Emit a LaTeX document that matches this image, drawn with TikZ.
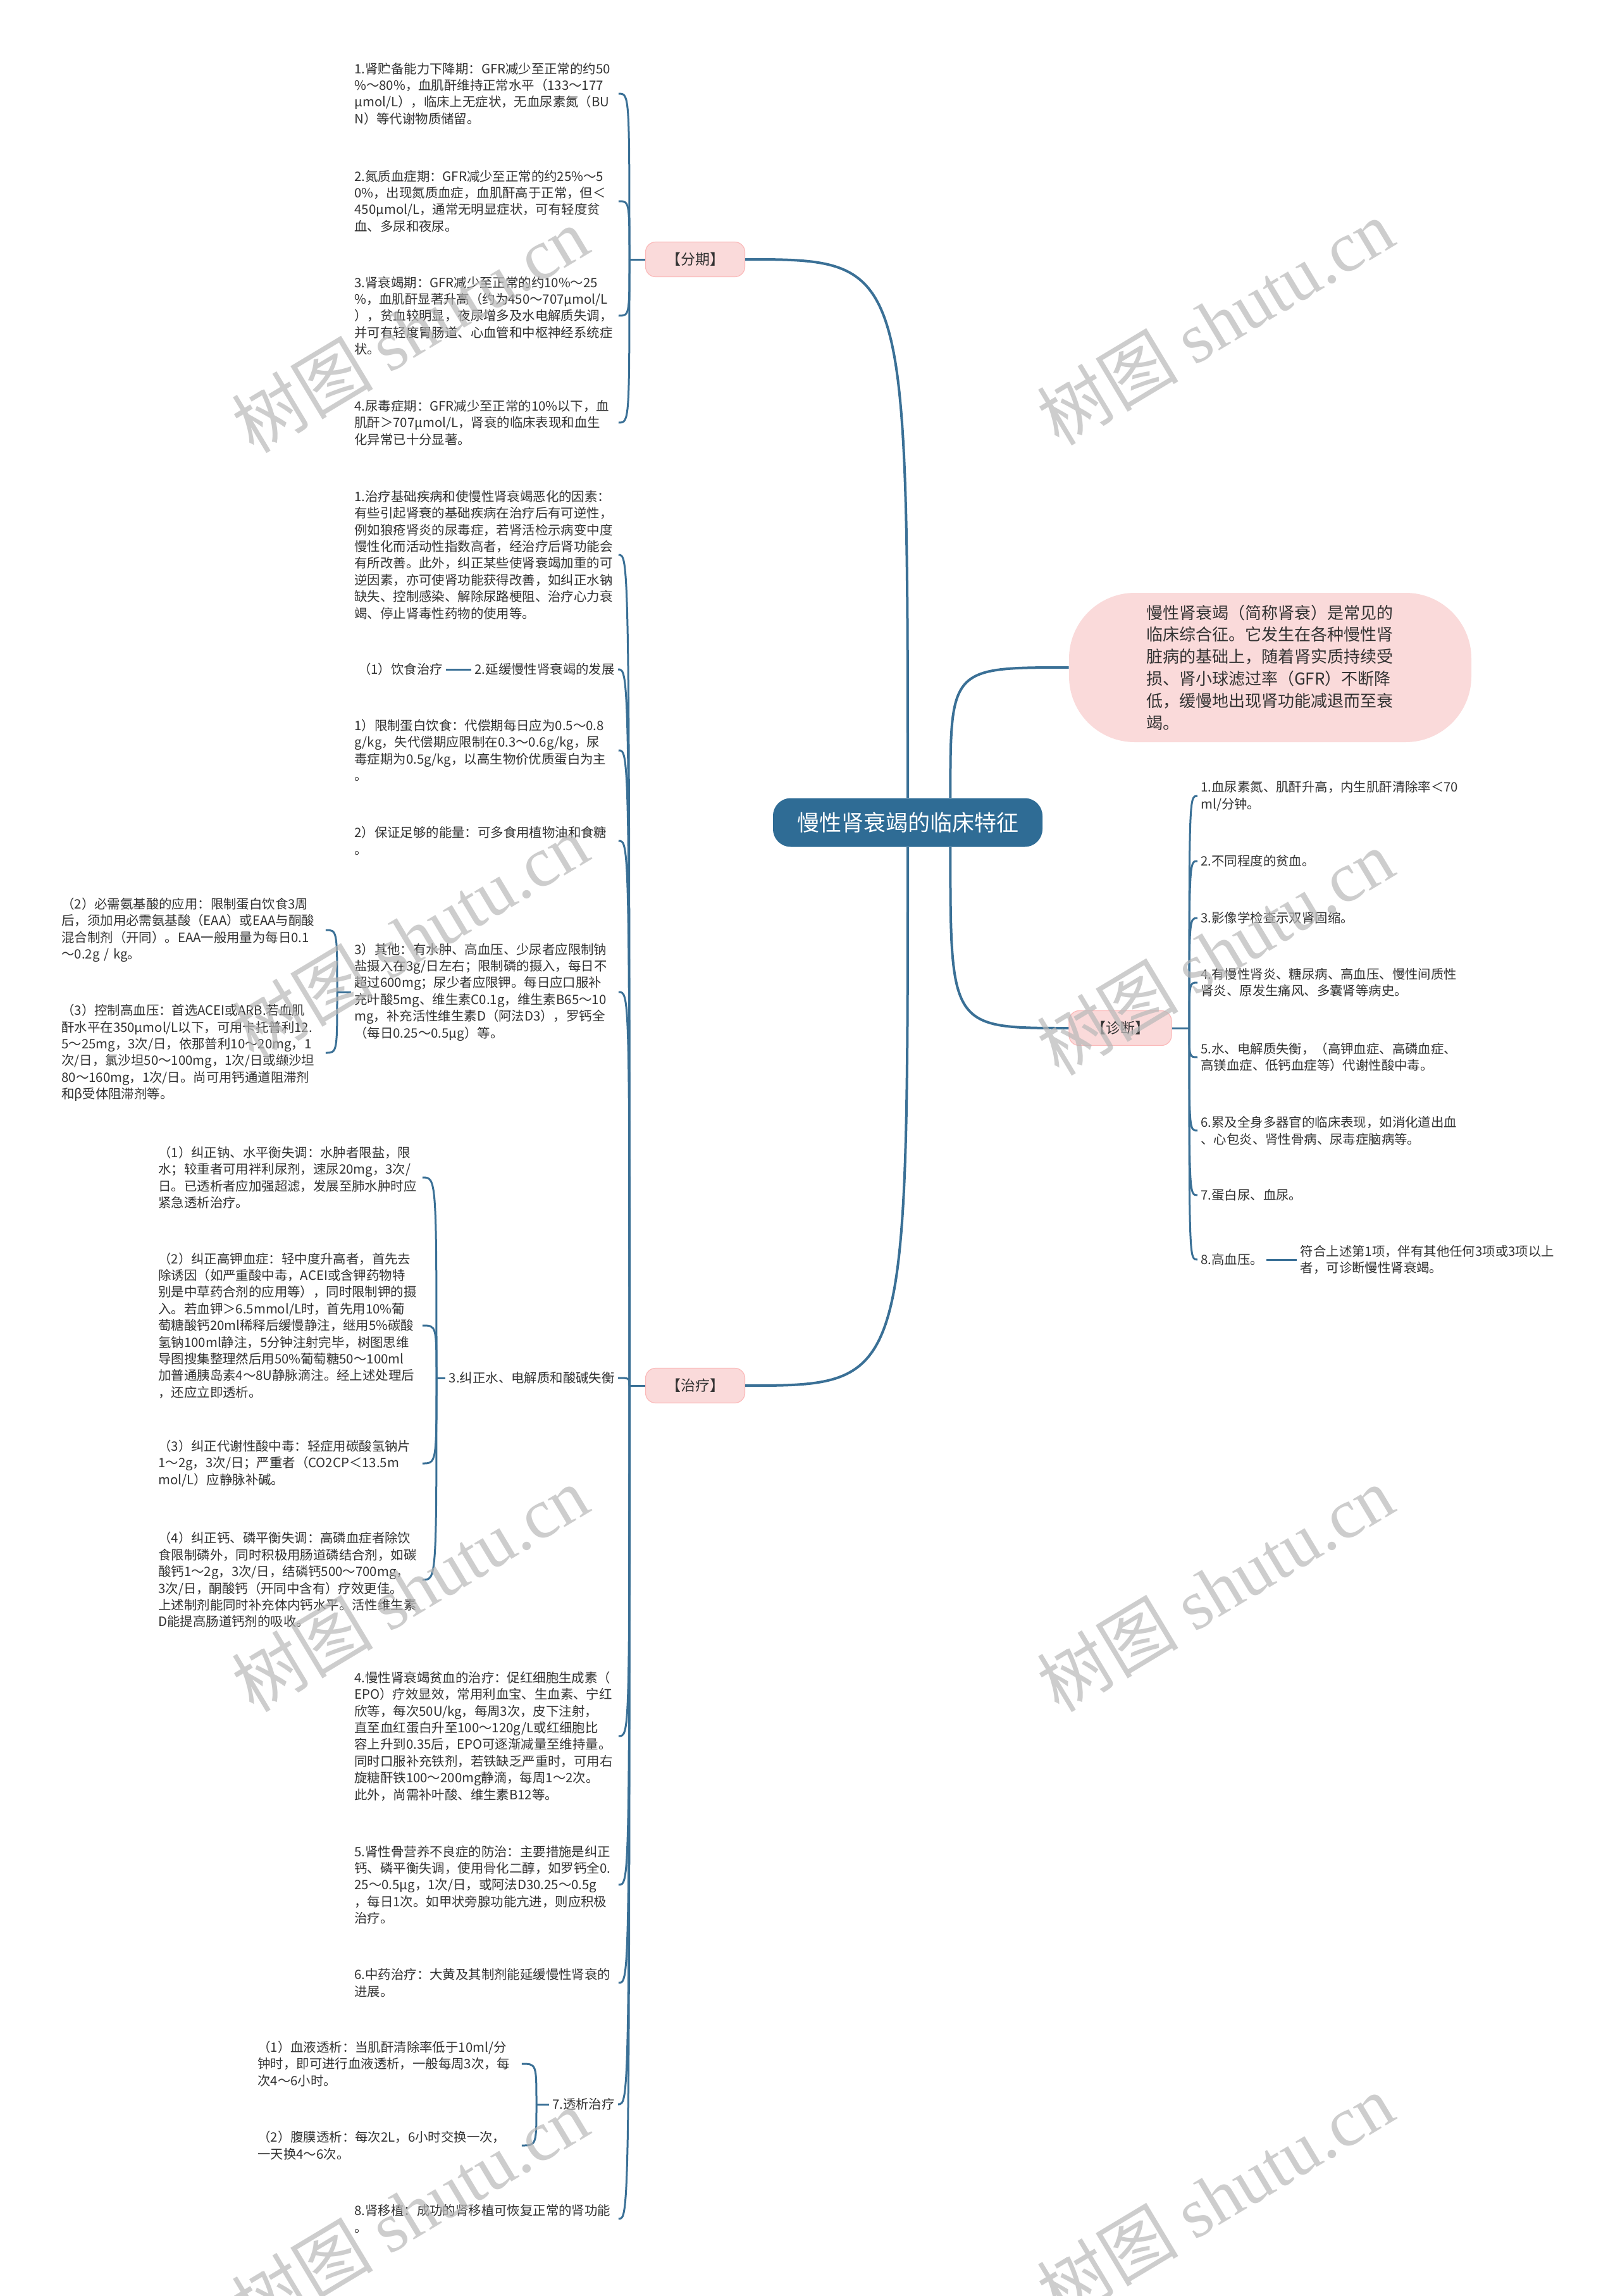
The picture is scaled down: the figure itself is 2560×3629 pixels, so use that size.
\documentclass[tikz,border=0pt]{standalone}
\usepackage{fontspec}
\setmainfont{Noto Sans CJK SC}
\newfontfamily\wmfont{Liberation Serif}
\usetikzlibrary{positioning}
\usepackage{xcolor}
\definecolor{linkblue}{HTML}{3A7096}
\definecolor{rootblue}{HTML}{2F6C95}
\definecolor{tagpink}{HTML}{FADADA}
\definecolor{txtgray}{HTML}{333333}

\tikzset{
  link/.style={draw=linkblue, line width=1.5pt},
  rootlink/.style={draw=linkblue, line width=2pt},
  leaf/.style={text=txtgray, font=\fontsize{10.2pt}{13.2pt}\selectfont,
               align=left, inner xsep=2.5pt, inner ysep=0pt},
  leafbox/.style={leaf, text width=206pt},
  tag/.style={fill=tagpink, draw=tagpink!85!red, line width=0.6pt,
              rounded corners=8pt, minimum width=78.5pt, minimum height=27.5pt,
              font=\fontsize{11.5pt}{14pt}\selectfont, text=txtgray},
  root/.style={fill=rootblue, text=white, rounded corners=14pt,
               minimum width=213pt, minimum height=38.5pt,
               font=\fontsize{17.5pt}{20pt}\selectfont},
  desc/.style={fill=tagpink, rounded corners=52pt, minimum width=318pt,
               minimum height=118pt, text width=196pt, align=left,
               text=txtgray, font=\fontsize{13pt}{17.4pt}\selectfont},
  wm/.style={text=black!28, opacity=0.7, rotate=31,
             font=\fontsize{56pt}{60pt}\selectfont}
}

\begin{document}
\begin{tikzpicture}[x=0.5pt, y=-0.5pt]
  \fill[white] (0,0) rectangle (2560,3629);
  \useasboundingbox (0,0) rectangle (2560,3629);

  % root and main branches
  \node[root] (root) at (1435,1300) {慢性肾衰竭的临床特征};
  \node[tag] (fenqi) at (1099,410) {【分期】};
  \node[tag] (zhiliao) at (1099,2190) {【治疗】};
  \node[tag, minimum width=81pt] (zhenduan) at (1771,1625) {【诊断】};
  \node[desc] (intro) at (2008,1055) {慢性肾衰竭（简称肾衰）是常见的\\临床综合征。它发生在各种慢性肾\\脏病的基础上，随着肾实质持续受\\损、肾小球滤过率（GFR）不断降\\低，缓慢地出现肾功能减退而至衰\\竭。};

  \draw[rootlink] (root.north) .. controls (root.north |- fenqi.east) .. (fenqi.east);
  \draw[rootlink] (root.south) .. controls (root.south |- zhiliao.east) .. (zhiliao.east);
  \draw[rootlink] (root.30) .. controls (root.30 |- intro.west) .. (intro.west);
  \draw[rootlink] (root.-30) .. controls (root.-30 |- zhenduan.west) .. (zhenduan.west);

  % 分期
  \node[leafbox, anchor=west] (fq1) at (555,148) {1.肾贮备能力下降期：GFR减少至正常的约50\\\%～80\%，血肌酐维持正常水平（133～177\\μmol/L），临床上无症状，无血尿素氮（BU\\N）等代谢物质储留。};
  \node[leafbox, anchor=west] (fq2) at (555,318) {2.氮质血症期：GFR减少至正常的约25\%～5\\0\%，出现氮质血症，血肌酐高于正常，但＜\\450μmol/L，通常无明显症状，可有轻度贫\\血、多尿和夜尿。};
  \node[leafbox, anchor=west] (fq3) at (555,499) {3.肾衰竭期：GFR减少至正常的约10\%～25\\\%，血肌酐显著升高（约为450～707μmol/L\\），贫血较明显，夜尿增多及水电解质失调，\\并可有轻度胃肠道、心血管和中枢神经系统症\\状。};
  \node[leafbox, anchor=west] (fq4) at (555,668) {4.尿毒症期：GFR减少至正常的10\%以下，血\\肌酐＞707μmol/L，肾衰的临床表现和血生\\化异常已十分显著。};

  \coordinate (fqj) at (995,410);
  \draw[link] (fenqi.west) -- (fqj);
  \foreach \c in {fq1,fq2,fq3,fq4}
    \draw[link] (fqj) .. controls (fqj |- \c.east) .. (\c.east);

  % 治疗
  \node[leafbox, anchor=west] (zl1) at (555,877) {1.治疗基础疾病和使慢性肾衰竭恶化的因素：\\有些引起肾衰的基础疾病在治疗后有可逆性，\\例如狼疮肾炎的尿毒症，若肾活检示病变中度\\慢性化而活动性指数高者，经治疗后肾功能会\\有所改善。此外，纠正某些使肾衰竭加重的可\\逆因素，亦可使肾功能获得改善，如纠正水钠\\缺失、控制感染、解除尿路梗阻、治疗心力衰\\竭、停止肾毒性药物的使用等。};
  \node[leaf, anchor=east] (zl2) at (977,1058) {2.延缓慢性肾衰竭的发展};
  \node[leaf, left=20pt of zl2] (ys) {（1）饮食治疗};
  \node[leafbox, anchor=west] (zl3) at (555,1186) {1）限制蛋白饮食：代偿期每日应为0.5～0.8\\g/kg，失代偿期应限制在0.3～0.6g/kg，尿\\毒症期为0.5g/kg，以高生物价优质蛋白为主\\。};
  \node[leafbox, anchor=west] (zl4) at (555,1329) {2）保证足够的能量：可多食用植物油和食糖\\。};
  \node[leafbox, anchor=west] (zl5) at (555,1568) {3）其他：有水肿、高血压、少尿者应限制钠\\盐摄入在3g/日左右；限制磷的摄入，每日不\\超过600mg；尿少者应限钾。每日应口服补\\充叶酸5mg、维生素C0.1g，维生素B65～10\\mg，补充活性维生素D（阿法D3），罗钙全\\（每日0.25～0.5μg）等。};
  \node[leafbox, anchor=west] (qt1) at (92,1470) {（2）必需氨基酸的应用：限制蛋白饮食3周\\后，须加用必需氨基酸（EAA）或EAA与酮酸\\混合制剂（开同）。EAA一般用量为每日0.1\\～0.2g / kg。};
  \node[leafbox, anchor=west] (qt2) at (92,1664) {（3）控制高血压：首选ACEI或ARB.若血肌\\酐水平在350μmol/L以下，可用卡托普利12.\\5～25mg，3次/日，依那普利10～20mg，1\\次/日，氯沙坦50～100mg，1次/日或缬沙坦\\80～160mg，1次/日。尚可用钙通道阻滞剂\\和β受体阻滞剂等。};
  \node[leaf, anchor=east] (zl6) at (977,2178) {3.纠正水、电解质和酸碱失衡};
  \node[leafbox, anchor=west] (jz1) at (245,1861) {（1）纠正钠、水平衡失调：水肿者限盐，限\\水；较重者可用袢利尿剂，速尿20mg，3次/\\日。已透析者应加强超滤，发展至肺水肿时应\\紧急透析治疗。};
  \node[leafbox, anchor=west] (jz2) at (245,2095) {（2）纠正高钾血症：轻中度升高者，首先去\\除诱因（如严重酸中毒，ACEI或含钾药物特\\别是中草药合剂的应用等），同时限制钾的摄\\入。若血钾＞6.5mmol/L时，首先用10\%葡\\萄糖酸钙20ml稀释后缓慢静注，继用5\%碳酸\\氢钠100ml静注，5分钟注射完毕，树图思维\\导图搜集整理然后用50\%葡萄糖50～100ml\\加普通胰岛素4～8U静脉滴注。经上述处理后\\，还应立即透析。};
  \node[leafbox, anchor=west] (jz3) at (245,2313) {（3）纠正代谢性酸中毒：轻症用碳酸氢钠片\\1～2g，3次/日；严重者（CO2CP＜13.5m\\mol/L）应静脉补碱。};
  \node[leafbox, anchor=west] (jz4) at (245,2497) {（4）纠正钙、磷平衡失调：高磷血症者除饮\\食限制磷外，同时积极用肠道磷结合剂，如碳\\酸钙1～2g，3次/日，结磷钙500～700mg，\\3次/日，酮酸钙（开同中含有）疗效更佳。\\上述制剂能同时补充体内钙水平。活性维生素\\D能提高肠道钙剂的吸收。};
  \node[leafbox, anchor=west] (zl7) at (555,2744) {4.慢性肾衰竭贫血的治疗：促红细胞生成素（\\EPO）疗效显效，常用利血宝、生血素、宁红\\欣等，每次50U/kg，每周3次，皮下注射，\\直至血红蛋白升至100～120g/L或红细胞比\\容上升到0.35后，EPO可逐渐减量至维持量。\\同时口服补充铁剂，若铁缺乏严重时，可用右\\旋糖酐铁100～200mg静滴，每周1～2次。\\此外，尚需补叶酸、维生素B12等。};
  \node[leafbox, anchor=west] (zl8) at (555,2979) {5.肾性骨营养不良症的防治：主要措施是纠正\\钙、磷平衡失调，使用骨化二醇，如罗钙全0.\\25～0.5μg，1次/日，或阿法D30.25～0.5g\\，每日1次。如甲状旁腺功能亢进，则应积极\\治疗。};
  \node[leafbox, anchor=west] (zl9) at (555,3134) {6.中药治疗：大黄及其制剂能延缓慢性肾衰的\\进展。};
  \node[leaf, anchor=east] (zl10) at (977,3326) {7.透析治疗};
  \node[leafbox, anchor=west] (tx1) at (402,3262) {（1）血液透析：当肌酐清除率低于10ml/分\\钟时，即可进行血液透析，一般每周3次，每\\次4～6小时。};
  \node[leafbox, anchor=west] (tx2) at (402,3391) {（2）腹膜透析：每次2L，6小时交换一次，\\一天换4～6次。};
  \node[leafbox, anchor=west] (zl11) at (555,3507) {8.肾移植：成功的肾移植可恢复正常的肾功能\\。};

  \coordinate (zlj) at (995,2190);
  \draw[link] (zhiliao.west) -- (zlj);
  \foreach \c in {zl1,zl2,zl3,zl4,zl5,zl6,zl7,zl8,zl9,zl10,zl11}
    \draw[link] (zlj) .. controls (zlj |- \c.east) .. (\c.east);
  \draw[link] (zl2.west) -- (ys.east);

  \coordinate (qtj) at (533,1568);
  \draw[link] (zl5.west) -- (qtj);
  \foreach \c in {qt1,qt2}
    \draw[link] (qtj) .. controls (qtj |- \c.east) .. (\c.east);

  \coordinate (jzj) at (690,2178);
  \draw[link] (zl6.west) -- (jzj);
  \foreach \c in {jz1,jz2,jz3,jz4}
    \draw[link] (jzj) .. controls (jzj |- \c.east) .. (\c.east);

  \coordinate (txj) at (848,3326);
  \draw[link] (zl10.west) -- (txj);
  \foreach \c in {tx1,tx2}
    \draw[link] (txj) .. controls (txj |- \c.east) .. (\c.east);

  % 诊断
  \node[leafbox, anchor=west] (zd1) at (1893,1258) {1.血尿素氮、肌酐升高，内生肌酐清除率＜70\\ml/分钟。};
  \node[leafbox, anchor=west] (zd2) at (1893,1361) {2.不同程度的贫血。};
  \node[leafbox, anchor=west] (zd3) at (1893,1451) {3.影像学检查示双肾固缩。};
  \node[leafbox, anchor=west] (zd4) at (1893,1553) {4.有慢性肾炎、糖尿病、高血压、慢性间质性\\肾炎、原发生痛风、多囊肾等病史。};
  \node[leafbox, anchor=west] (zd5) at (1893,1671) {5.水、电解质失衡，（高钾血症、高磷血症、\\高镁血症、低钙血症等）代谢性酸中毒。};
  \node[leafbox, anchor=west] (zd6) at (1893,1787) {6.累及全身多器官的临床表现，如消化道出血\\、心包炎、肾性骨病、尿毒症脑病等。};
  \node[leafbox, anchor=west] (zd7) at (1893,1889) {7.蛋白尿、血尿。};
  \node[leaf, anchor=west] (zd8) at (1893,1991) {8.高血压。};
  \node[leaf, right=24pt of zd8] (zd8a) {符合上述第1项，伴有其他任何3项或3项以上\\者，可诊断慢性肾衰竭。};

  \coordinate (zdj) at (1880,1625);
  \draw[link] (zhenduan.east) -- (zdj);
  \foreach \c in {zd1,zd2,zd3,zd4,zd5,zd6,zd7,zd8}
    \draw[link] (zdj) .. controls (zdj |- \c.west) .. (\c.west);
  \draw[link] (zd8.east) -- (zd8a.west);

  % watermark
  \foreach \p in {(648,521),(1921,509),(648,1481),(1921,1505),(648,2511),(1921,2511),(648,3495),(1921,3472)}
    \node[wm] at \p {树图 {\wmfont shutu.cn}};
\end{tikzpicture}
\end{document}
